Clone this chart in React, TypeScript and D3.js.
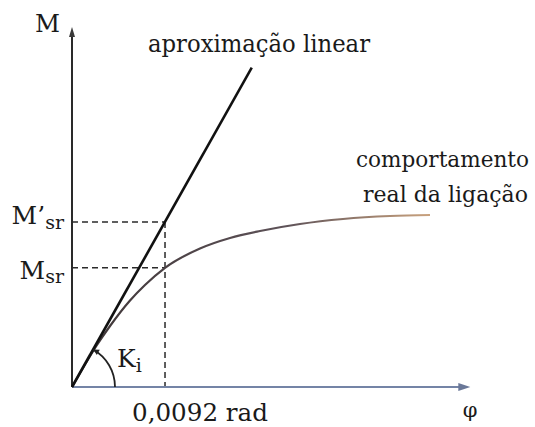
import React from 'react';
import * as d3 from 'd3';

// Real connection behaviour (phi in rad, M in relative units)
const curvePhi = [0, 0.00129, 0.00247, 0.00376, 0.00574, 0.00722, 0.0092, 0.01266, 0.01563, 0.0186, 0.02255, 0.02681, 0.03146, 0.03541];
const curveM = [0, 6.25, 11.67, 16.94, 24.03, 28.33, 33.1, 38.47, 41.39, 43.33, 45.28, 46.67, 47.5, 47.78];

// Linear approximation (secant with initial stiffness Ki)
const linearPhi = [0, 0.01778];
const linearM = [0, 88.7];

// Reference values
const phiRef = 0.0092;
const mPrimeSr = 45.8;
const mSr = 33.1;
const phiAxisMax = 0.0394;
const mAxisMax = 100;

const tickLabel = '0,0092 rad';
const serif = "'DejaVu Serif', 'Liberation Serif', serif";

const W = 535;
const H = 427;

const App: React.FC = () => {
  const x = d3.scaleLinear().domain([0, 0.04]).range([72, 476.4]);
  const y = d3.scaleLinear().domain([0, mAxisMax]).range([387, 27]);

  const curve = d3
    .line<number>()
    .x((d) => x(d))
    .y((_, i) => y(curveM[i]))
    .curve(d3.curveMonotoneX)(curvePhi) as string;

  const linear = d3
    .line<number>()
    .x((d) => x(d))
    .y((_, i) => y(linearM[i]))(linearPhi) as string;

  // angle of the linear approximation, in screen coordinates
  const ang = Math.atan2(y(linearM[1]) - y(0), x(linearPhi[1]) - x(0));
  const r = 43;
  const arcPath = d3.path();
  arcPath.arc(x(0), y(0), r, ang, 0);
  const ax = x(0) + r * Math.cos(ang);
  const ay = y(0) + r * Math.sin(ang);
  // small arrow at the top end of the arc, pointing along the arc towards the line
  const tx = Math.sin(ang);
  const ty = -Math.cos(ang);
  const nx = Math.cos(ang);
  const ny = Math.sin(ang);
  const arrowHead = `M${ax},${ay} L${ax - tx * 6 + nx * 3},${ay - ty * 6 + ny * 3} L${ax - tx * 6 - nx * 3},${ay - ty * 6 - ny * 3} Z`;

  const x0 = x(0);
  const y0 = y(0);
  const xTip = x(phiAxisMax);
  const yTip = y(mAxisMax);

  return (
    <svg width={W} height={H} style={{ position: 'absolute', left: 0, top: 0, background: '#fff' }}>
      <defs>
        <linearGradient id="curveGrad" gradientUnits="userSpaceOnUse" x1={x0} x2={x(curvePhi[curvePhi.length - 1])} y1={0} y2={0}>
          <stop offset="0%" stopColor="#3d3536" />
          <stop offset="60%" stopColor="#5e5258" />
          <stop offset="100%" stopColor="#c9a27e" />
        </linearGradient>
      </defs>

      {/* dashed reference lines */}
      <g stroke="#2b2b2b" strokeWidth={1.5} strokeDasharray="6,4" fill="none">
        <line x1={x0} x2={x(phiRef)} y1={y(mPrimeSr)} y2={y(mPrimeSr)} />
        <line x1={x0} x2={x(phiRef)} y1={y(mSr)} y2={y(mSr)} />
        <line x1={x(phiRef)} x2={x(phiRef)} y1={y(mPrimeSr)} y2={y0} />
      </g>

      {/* x axis */}
      <line x1={x0} x2={xTip - 8} y1={y0} y2={y0} stroke="#7484a6" strokeWidth={2} />
      <path d={`M${xTip},${y0} L${xTip - 12},${y0 - 4} L${xTip - 12},${y0 + 4} Z`} fill="#6a7898" />

      {/* y axis */}
      <line x1={x0} x2={x0} y1={y0} y2={yTip + 6} stroke="#2a2a2a" strokeWidth={2} />
      <path d={`M${x0},${yTip} L${x0 - 3},${yTip + 10} L${x0 + 3},${yTip + 10} Z`} fill="#3a3a3a" />

      {/* real behaviour */}
      <path d={curve} fill="none" stroke="url(#curveGrad)" strokeWidth={2.2} />

      {/* linear approximation */}
      <path d={linear} fill="none" stroke="#111" strokeWidth={2.6} />

      {/* Ki arc */}
      <path d={arcPath.toString()} fill="none" stroke="#222" strokeWidth={1.8} />
      <path d={arrowHead} fill="#222" />

      {/* labels */}
      <g fill="#1a1a1a" fontSize={25} style={{ fontFamily: serif }}>
        <text x={35} y={32} textLength={25} lengthAdjust="spacingAndGlyphs">M</text>
        <text x={148} y={52} textLength={222} lengthAdjust="spacingAndGlyphs">aproximação linear</text>
        <text x={356} y={167} fontSize={22} textLength={173} lengthAdjust="spacingAndGlyphs">comportamento</text>
        <text x={363} y={202} fontSize={22} textLength={165} lengthAdjust="spacingAndGlyphs">real da ligação</text>
        <text x={64} y={224} textAnchor="end">
          M’<tspan fontSize={19} dy={5}>sr</tspan>
        </text>
        <text x={64} y={279} textAnchor="end">
          M<tspan fontSize={19} dy={4}>sr</tspan>
        </text>
        <text x={117} y={367}>
          K<tspan fontSize={19} dy={5}>i</tspan>
        </text>
        <text x={132} y={421} textLength={136} lengthAdjust="spacingAndGlyphs">{tickLabel}</text>
        <text x={470} y={417} textAnchor="middle" fontSize={21}>φ</text>
      </g>
    </svg>
  );
};

export default App;
